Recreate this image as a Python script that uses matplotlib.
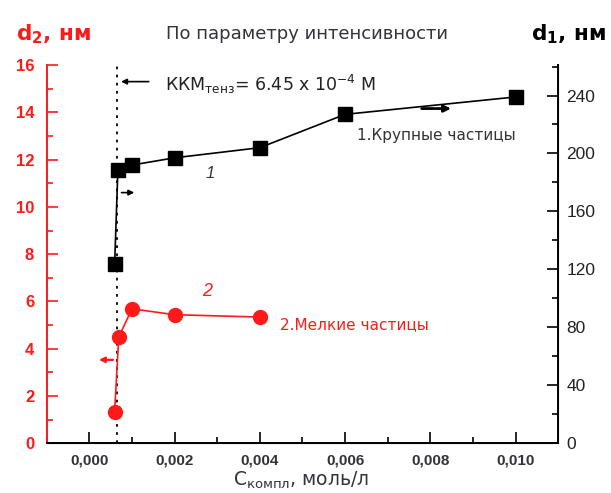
import numpy as np
import matplotlib.pyplot as plt
from matplotlib.ticker import MultipleLocator

plt.rcParams['font.family'] = ['Liberation Sans', 'DejaVu Sans']

# 1 - large particles, d1 in nm (right axis)
c1 = [0.000594, 0.00067, 0.001, 0.002, 0.004, 0.006, 0.010]
d1 = [124, 188.5, 192, 197, 204, 227, 239]

# 2 - small particles, d2 in nm (left axis)
c2 = [0.000594, 0.00069, 0.001, 0.002, 0.004]
d2 = [1.34, 4.49, 5.69, 5.44, 5.34]

cmc = 0.000645

xticks = [0.000, 0.002, 0.004, 0.006, 0.008, 0.010]
xtick_labels = ['0,000', '0,002', '0,004', '0,006', '0,008', '0,010']
left_ticks = [0, 2, 4, 6, 8, 10, 12, 14, 16]
right_ticks = [0, 40, 80, 120, 160, 200, 240]

red = '#ff1a1a'
gray = '#333338'
wide = ['DejaVu Sans']

fig = plt.figure(figsize=(6.11, 4.93), dpi=100)
ax = fig.add_axes([0.0764, 0.1008, 0.8373, 0.7672])
ax2 = ax.twinx()

# series 2 on left axis
ax.plot(c2, d2, color=red, lw=1.2, marker='o', ms=10, zorder=3)
ax.axvline(cmc, color='black', ls=(0, (1.5, 3)), lw=1.3)

# series 1 on right axis
ax2.plot(c1, d1, color='black', lw=1.2, marker='s', ms=10.5, zorder=3)

ax.set_xlim(-0.001, 0.011)
ax.set_ylim(0, 16)
ax2.set_ylim(0, 261)

ax.set_xticks(xticks)
ax.set_xticklabels(xtick_labels, fontsize=11, fontweight='bold', color=gray)
ax.xaxis.set_minor_locator(MultipleLocator(0.001))
ax.set_yticks(left_ticks)
ax.yaxis.set_minor_locator(MultipleLocator(1))
ax2.set_yticks(right_ticks)
ax2.yaxis.set_minor_locator(MultipleLocator(20))

ax.tick_params(axis='x', which='both', direction='in', color='black', width=1.2, pad=7)
ax.tick_params(axis='x', which='major', length=8)
ax.tick_params(axis='x', which='minor', length=4)
ax.tick_params(axis='y', which='both', direction='in', colors=red, width=1.2,
               labelsize=12, pad=9)
ax.tick_params(axis='y', which='major', length=8)
ax.tick_params(axis='y', which='minor', length=4)
for lab in ax.get_yticklabels():
    lab.set_fontweight('bold')
ax2.tick_params(axis='y', which='both', direction='in', color='black', width=1.2,
                labelsize=12.5, labelcolor='#222222', pad=6)
ax2.tick_params(axis='y', which='major', length=8)
ax2.tick_params(axis='y', which='minor', length=4)

for a in (ax, ax2):
    a.spines['top'].set_visible(False)
ax.spines['left'].set_color(red)
ax.spines['left'].set_linewidth(1.4)
ax.spines['bottom'].set_linewidth(1.4)
ax2.spines['left'].set_visible(False)
ax2.spines['right'].set_linewidth(1.4)

# arrows pointing to the axis of each curve
ax2.annotate('', xy=(0.00855, 231), xytext=(0.00773, 231),
             arrowprops=dict(arrowstyle='-|>', color='black', lw=2, mutation_scale=10))
ax2.annotate('', xy=(0.00112, 173), xytext=(0.00069, 173),
             arrowprops=dict(arrowstyle='-|>', color='black', lw=1.2, mutation_scale=8))
ax.annotate('', xy=(0.00016, 3.53), xytext=(0.00062, 3.53),
            arrowprops=dict(arrowstyle='-|>', color=red, lw=1.6, mutation_scale=8))

# CMC annotation
ax.annotate('', xy=(0.00068, 15.3), xytext=(0.00146, 15.3),
            arrowprops=dict(arrowstyle='-|>', color='black', lw=1.2, mutation_scale=8))
ax.text(0.00178, 15.2, 'ККМ$_{\\mathregular{тенз}}$= 6.45 x 10$^{\\mathregular{-4}}$ М',
        fontsize=12.5, va='center', ha='left', color='#222222', family=wide)

ax.text(0.00284, 11.4, '1', fontsize=12, style='italic', color=gray, ha='center', va='center')
ax.text(0.00276, 6.42, '2', fontsize=13, style='italic', color=red, ha='center', va='center')
ax.text(0.00627, 13.0, '1.Крупные частицы', fontsize=11, color=gray, va='center',
        family=wide)
ax.text(0.00448, 5.0, '2.Мелкие частицы', fontsize=11, color=red, va='center',
        family=wide)

# axis titles
fig.text(0.087, 0.931, 'd$_{\\mathregular{2}}$, нм', fontsize=15.5, fontweight='bold',
         color=red, ha='center', va='center', family=wide)
fig.text(0.93, 0.931, 'd$_{\\mathregular{1}}$, нм', fontsize=15.5, fontweight='bold',
         color='black', ha='center', va='center', family=wide)
fig.text(0.502, 0.931, 'По параметру интенсивности', fontsize=13, color=gray,
         ha='center', va='center', family=wide)
fig.text(0.493, 0.004, 'С$_{\\mathregular{компл}}$, моль/л', fontsize=13.5, color=gray,
         ha='center', va='bottom', family=wide)

fig.savefig('out.png', dpi=100)
